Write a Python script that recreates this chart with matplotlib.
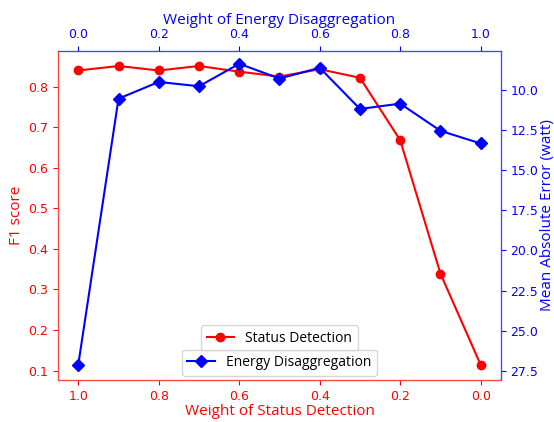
import numpy as np
import matplotlib
matplotlib.use('Agg')
import matplotlib.pyplot as plt

# weights of status detection (bottom axis); energy weight is 1 - w
w_status = [1.0, 0.9, 0.8, 0.7, 0.6, 0.5, 0.4, 0.3, 0.2, 0.1, 0.0]
f1_score = [0.840, 0.851, 0.840, 0.851, 0.837, 0.825, 0.843, 0.822, 0.668, 0.339, 0.114]
mae_watt = [27.1, 10.56, 9.52, 9.79, 8.39, 9.31, 8.64, 11.2, 10.87, 12.56, 13.35]

label_font = 'Open Sans'

fig, ax1 = plt.subplots(figsize=(5.54, 4.22), dpi=100)
fig.subplots_adjust(left=0.105, right=0.904, bottom=0.100, top=0.879)

l1, = ax1.plot(w_status, f1_score, color='red', marker='o', markersize=6,
               linewidth=1.5, label='Status Detection')
ax1.invert_xaxis()
ax1.set_xlabel('Weight of Status Detection', color='red', fontsize=11,
               family=label_font, labelpad=1)
ax1.set_ylabel('F1 score', color='red', fontsize=11, family=label_font, labelpad=3)
ax1.tick_params(axis='x', colors='red', labelsize=9)
ax1.tick_params(axis='y', colors='red', labelsize=9)

ax2 = ax1.twinx()
l2, = ax2.plot(w_status, mae_watt, color='blue', marker='D', markersize=6.5,
               linewidth=1.5, label='Energy Disaggregation')
ax2.set_ylim(28.05, 7.6)
ax2.set_ylabel('Mean Absolute Error (watt)', color='blue', fontsize=11,
               family=label_font, labelpad=1)
ax2.tick_params(axis='y', colors='blue', labelsize=9)

ax3 = ax1.twiny()
lo, hi = ax1.get_xlim()
ax3.set_xlim(1 - lo, 1 - hi)
ax3.set_xlabel('Weight of Energy Disaggregation', color='blue', fontsize=11,
               family=label_font, labelpad=3)
ax3.tick_params(axis='x', colors='blue', labelsize=9)

for ax in (ax1, ax2, ax3):
    ax.spines['left'].set_color('#ff4444')
    ax.spines['bottom'].set_color('#ff4444')
    ax.spines['right'].set_color('#4444ff')
    ax.spines['top'].set_color('#4444ff')

leg1 = ax2.legend(handles=[l1], loc='lower center', bbox_to_anchor=(0.5, 0.066),
                  prop={'family': label_font, 'size': 10})
ax2.add_artist(leg1)
ax2.legend(handles=[l2], loc='lower center', bbox_to_anchor=(0.5, -0.009),
           prop={'family': label_font, 'size': 10})

fig.savefig('out.png', dpi=100)
